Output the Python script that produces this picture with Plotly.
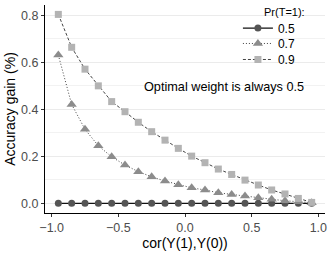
import plotly.graph_objects as go

cor = [-0.95, -0.85, -0.75, -0.65, -0.55, -0.45, -0.35, -0.25, -0.15, -0.05,
       0.05, 0.15, 0.25, 0.35, 0.45, 0.55, 0.65, 0.75, 0.85, 0.95]
gain_05 = [0.0] * 20
gain_07 = [0.631, 0.421, 0.315, 0.245, 0.198, 0.163, 0.135, 0.113, 0.095, 0.079,
           0.066, 0.057, 0.045, 0.038, 0.031, 0.024, 0.017, 0.011, 0.007, 0.003]
gain_09 = [0.804, 0.664, 0.571, 0.500, 0.433, 0.390, 0.345, 0.305, 0.269, 0.234,
           0.201, 0.173, 0.146, 0.123, 0.099, 0.078, 0.057, 0.040, 0.021, 0.004]
series_names = ["0.5", "0.7", "0.9"]

FONT = "Liberation Sans, Arial"

fig = go.Figure()
fig.add_trace(go.Scatter(x=cor, y=gain_05, name=series_names[0], mode="lines+markers",
                         legend="legend",
                         line=dict(color="#111111", width=1.2, dash="solid"),
                         marker=dict(symbol="circle", size=7, color="#555555")))
fig.add_trace(go.Scatter(x=cor, y=gain_07, name=series_names[1], mode="lines+markers",
                         legend="legend2",
                         line=dict(color="#444444", width=1, dash="1px,2px"),
                         marker=dict(symbol="triangle-up", size=9, color="#8c8c8c")))
fig.add_trace(go.Scatter(x=cor, y=gain_09, name=series_names[2], mode="lines+markers",
                         legend="legend3",
                         line=dict(color="#444444", width=1, dash="3px,2px"),
                         marker=dict(symbol="square", size=7, color="#b3b3b3")))

fig.add_annotation(x=0.29, y=0.495, text="Optimal weight is always 0.5", showarrow=False,
                   font=dict(size=12.7, color="black", family=FONT))
fig.add_annotation(x=0.775, y=0.966, xref="paper", yref="paper", xanchor="left",
                   yanchor="middle", text="Pr(T=1):", showarrow=False,
                   font=dict(size=11, color="black", family=FONT))

# white legend background hiding the gridlines behind the legend
fig.add_shape(type="rect", xref="paper", yref="paper", x0=0.757, x1=0.946, y0=0.707, y1=1.0,
              fillcolor="white", line=dict(width=0), layer="between")

leg_common = dict(x=0.689, xanchor="left", yanchor="middle", bgcolor="rgba(0,0,0,0)",
                  font=dict(size=12, color="black"), itemwidth=30, borderwidth=0)

fig.update_layout(
    width=330, height=264,
    margin=dict(l=45, r=5, t=5, b=51),
    plot_bgcolor="white", paper_bgcolor="white",
    font=dict(family=FONT, size=12, color="#4d4d4d"),
    showlegend=True,
    legend=dict(y=0.889, **leg_common),
    legend2=dict(y=0.815, **leg_common),
    legend3=dict(y=0.738, **leg_common),
    xaxis=dict(range=[-1.05, 1.05], tickvals=[-1.0, -0.5, 0.0, 0.5, 1.0],
               ticktext=["\u22121.0", "\u22120.5", "0.0", "0.5", "1.0"],
               showgrid=False, zeroline=False, showline=True, linecolor="black",
               linewidth=1.2, ticks="outside", ticklen=3, tickcolor="#333333",
               tickfont=dict(size=12.5, color="#4d4d4d"), automargin=False,
               title=dict(text="cor(Y(1),Y(0))", font=dict(size=14, color="black"), standoff=2)),
    yaxis=dict(range=[-0.041, 0.844], tickvals=[0.0, 0.2, 0.4, 0.6, 0.8],
               ticktext=["0.0", "0.2", "0.4", "0.6", "0.8"],
               showgrid=True, gridcolor="#ebebeb", gridwidth=1, zeroline=False,
               showline=True, linecolor="black", linewidth=1.2,
               ticks="outside", ticklen=3, tickcolor="#333333",
               tickfont=dict(size=12.5, color="#4d4d4d"), automargin=False,
               minor=dict(tickvals=[0.1, 0.3, 0.5, 0.7], showgrid=True,
                          gridcolor="#f2f2f2", gridwidth=1, ticks=""),
               title=dict(text="Accuracy gain (%)", font=dict(size=14, color="black"), standoff=2)),
)

fig.write_html("out.html", config={"displayModeBar": False},
               post_script="document.body.style.margin='0';document.body.style.padding='0';")
